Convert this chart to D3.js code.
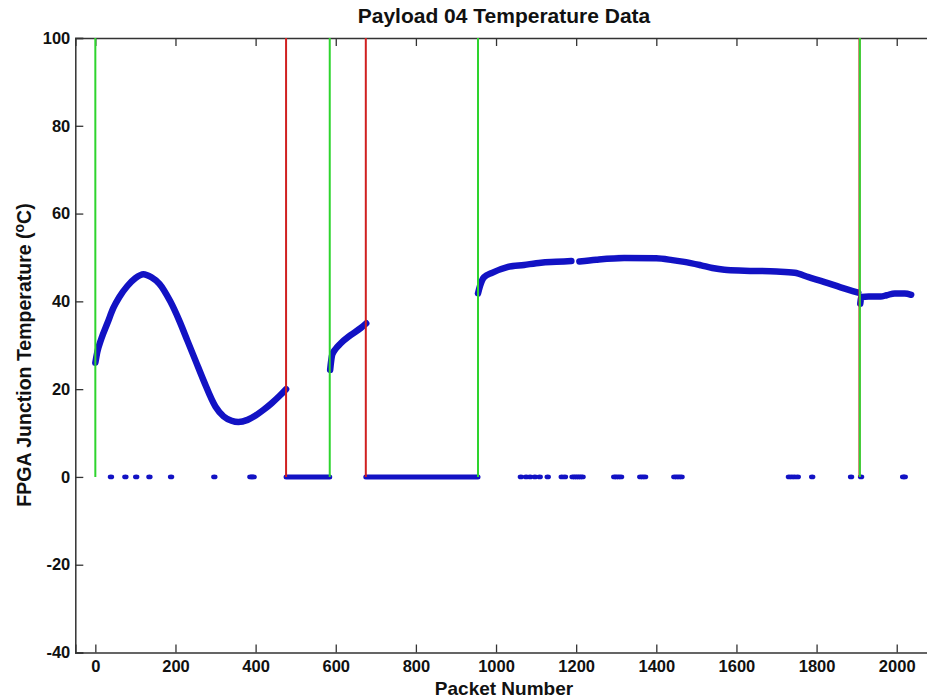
<!DOCTYPE html>
<html>
<head>
<meta charset="utf-8">
<script src="https://cdn.jsdelivr.net/npm/d3@7"></script>
<style>
  body { margin: 0; background: #fff; }
  text { font-family: "Liberation Sans", Arial, sans-serif; font-weight: bold; fill: #111; }
</style>
</head>
<body>
<svg id="chart"></svg>
<script>
// data: [packet, temperature]
const riseA = [[0, 26], [5, 28.5], [15, 31.5], [30, 35], [45, 38.5], [60, 41], [80, 43.5], [100, 45.3],
  [120, 46.2], [140, 45.5], [160, 44], [187, 40], [210, 35.5], [230, 31], [250, 26.5], [270, 22],
  [300, 16], [320, 13.8], [340, 12.8], [357, 12.5], [380, 13], [400, 14], [420, 15.3], [440, 16.8],
  [460, 18.5], [476, 20]];
const riseB = [[586, 24.4], [591, 27.8], [600, 29.2], [612, 30.4], [637, 32.3], [662, 33.9], [676, 35]];
const riseC = [[955, 41.8], [960, 43.5], [970, 45.5], [990, 46.5], [1028, 47.8], [1070, 48.3],
  [1112, 48.8], [1150, 49], [1188, 49.2]];
const riseD = [[1208, 49.1], [1250, 49.5], [1320, 49.9], [1400, 49.8], [1440, 49.4], [1470, 49],
  [1512, 48.2], [1540, 47.6], [1570, 47.2], [1620, 47], [1700, 46.8], [1745, 46.5], [1780, 45.5],
  [1820, 44.4], [1860, 43.2], [1904, 42]];
const riseE = [[1909, 39.5], [1912, 41], [1930, 41.1], [1960, 41.1], [1975, 41.4], [1995, 41.8],
  [2020, 41.8], [2036, 41.5]];
const zeroSpans = [[476, 585], [675, 955]];
const zeroDots = [39, 75, 102, 135, 189, 297, 387, 391, 395, 1062, 1075, 1085, 1097, 1109, 1129,
  1164, 1172, 1191, 1196, 1201, 1206, 1211, 1216, 1295, 1300, 1306, 1312, 1360, 1366, 1372,
  1445, 1451, 1457, 1463, 1731, 1738, 1745, 1753, 1789, 1886, 1911, 2016, 2020];
const greenLines = [0, 585, 955, 1908];
const redLines = [476, 675, 1907];
const xTicks = [0, 200, 400, 600, 800, 1000, 1200, 1400, 1600, 1800, 2000];
const yTicks = [-40, -20, 0, 20, 40, 60, 80, 100];

const width = 927, height = 698;
const svg = d3.select("#chart").attr("width", width).attr("height", height);

const x = d3.scaleLinear().domain([-50, 2100]).range([75.3, 936.8]);
const y = d3.scaleLinear().domain([-40, 100]).range([652.5, 38]);
const blue = "#1212c4";
const fmt = d => String(d); // plain hyphen minus, like the original

// axes box (MATLAB style, ticks inside)
const axisColor = "#333";
svg.append("g").attr("transform", `translate(0,${y(-40)})`)
  .call(d3.axisBottom(x).tickValues(xTicks).tickSize(-8).tickPadding(8).tickFormat(fmt))
  .call(g => g.select(".domain").attr("stroke", axisColor).attr("stroke-width", 1.5))
  .call(g => g.selectAll(".tick line").attr("stroke", axisColor).attr("stroke-width", 1.3))
  .call(g => g.selectAll(".tick text").style("font-size", "16.5px"));
svg.append("g").attr("transform", `translate(0,${y(100)})`)
  .call(d3.axisTop(x).tickValues(xTicks).tickSize(-8).tickFormat(""))
  .call(g => g.select(".domain").attr("stroke", axisColor).attr("stroke-width", 1.5))
  .call(g => g.selectAll(".tick line").attr("stroke", axisColor).attr("stroke-width", 1.3));
svg.append("g").attr("transform", `translate(${x(-50)},0)`)
  .call(d3.axisLeft(y).tickValues(yTicks).tickSize(-8).tickPadding(5).tickFormat(fmt))
  .call(g => g.select(".domain").attr("stroke", axisColor).attr("stroke-width", 1.5))
  .call(g => g.selectAll(".tick line").attr("stroke", axisColor).attr("stroke-width", 1.3))
  .call(g => g.selectAll(".tick text").style("font-size", "16.5px"));

// temperature curves
const line = d3.line().x(d => x(d[0])).y(d => y(d[1])).curve(d3.curveMonotoneX);
[riseA, riseB, riseC, riseD, riseE].forEach(seg => {
  svg.append("path").attr("d", line(seg)).attr("fill", "none")
    .attr("stroke", blue).attr("stroke-width", 6.5).attr("stroke-linecap", "round");
});

// zero readings
zeroSpans.forEach(s => {
  svg.append("line").attr("x1", x(s[0])).attr("x2", x(s[1])).attr("y1", y(0)).attr("y2", y(0))
    .attr("stroke", blue).attr("stroke-width", 5).attr("stroke-linecap", "round");
});
svg.selectAll(".zdot").data(zeroDots).enter().append("ellipse")
  .attr("class", "zdot")
  .attr("cx", d => x(d)).attr("cy", y(0)).attr("rx", 3.2).attr("ry", 2.4).attr("fill", blue);

// event markers
redLines.forEach(v => {
  svg.append("line").attr("x1", x(v)).attr("x2", x(v)).attr("y1", y(0)).attr("y2", y(100))
    .attr("stroke", "#d02020").attr("stroke-width", 2);
});
greenLines.forEach(v => {
  svg.append("line").attr("x1", x(v)).attr("x2", x(v)).attr("y1", y(0)).attr("y2", y(100))
    .attr("stroke", "#2ed42e").attr("stroke-width", 2);
});

// labels
svg.append("text").attr("x", 504).attr("y", 23).attr("text-anchor", "middle")
  .style("font-size", "21px").text("Payload 04 Temperature Data");
svg.append("text").attr("x", 504).attr("y", 695).attr("text-anchor", "middle")
  .style("font-size", "19px").text("Packet Number");
const yl = svg.append("text").attr("transform", "translate(31,355) rotate(-90)")
  .attr("text-anchor", "middle").style("font-size", "19.5px");
yl.append("tspan").text("FPGA Junction Temperature (");
yl.append("tspan").attr("dy", -7).style("font-size", "14px").text("o");
yl.append("tspan").attr("dy", 7).text("C)");
</script>
</body>
</html>
